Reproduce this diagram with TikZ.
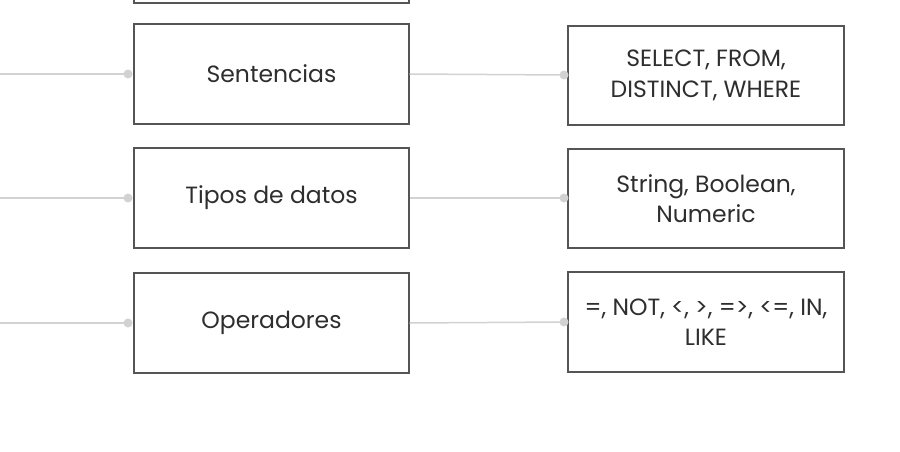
\documentclass[tikz,border=0pt]{standalone}
\usepackage{fontspec}
\setmainfont{Poppins}
\begin{document}
\begin{tikzpicture}[x=1pt,y=-1pt,
  box/.style={draw=boxgray,line width=1.3pt,fill=white,minimum width=275pt,minimum height=100pt,inner sep=0pt,align=center,font=\fontsize{23.5}{30.5}\selectfont,text=textgray},
  conn/.style={draw=linegray,line width=1.5pt},
  dotc/.style={circle,fill=linegray,inner sep=0pt,minimum size=9pt}]
\definecolor{boxgray}{HTML}{555555}
\definecolor{linegray}{HTML}{D2D2D2}
\definecolor{textgray}{HTML}{2E2E2E}
\useasboundingbox (0,0) rectangle (900,452);
\clip (0,0) rectangle (900,452);
% partial top box
\node[box,minimum height=40pt] (top) at (271.5,-17) {};
% left column
\node[box] (s) at (271.5,74) {Sentencias};
\node[box] (t) at (271.5,198) {Tipos de datos};
\node[box] (o) at (271.5,323) {Operadores};
% right column
\node[box,minimum width=276pt,minimum height=99pt] (rs) at (706,75.5) {SELECT, FROM,\\DISTINCT, WHERE};
\node[box,minimum width=276pt,minimum height=99pt] (rt) at (706,198.5) {String, Boolean,\\Numeric};
\node[box,minimum width=276pt,minimum height=100pt] (ro) at (706,322) {=, NOT, <, >, =>, <=, IN,\\LIKE};
% left incoming connectors
\coordinate (ls) at (0,74);
\coordinate (lt) at (0,198);
\coordinate (lo) at (0,323);
\node[dotc] (ds) at (128,74) {};
\node[dotc] (dt) at (128,198) {};
\node[dotc] (do) at (128,323) {};
\draw[conn] (ls) -- (ds.center);
\draw[conn] (lt) -- (dt.center);
\draw[conn] (lo) -- (do.center);
% right connectors
\node[dotc] (rds) at (564,75) {};
\node[dotc] (rdt) at (564,198) {};
\node[dotc] (rdo) at (564,322) {};
\draw[conn] (s.east) -- (rds.center);
\draw[conn] (t.east) -- (rdt.center);
\draw[conn] (o.east) -- (rdo.center);
\end{tikzpicture}
\end{document}
